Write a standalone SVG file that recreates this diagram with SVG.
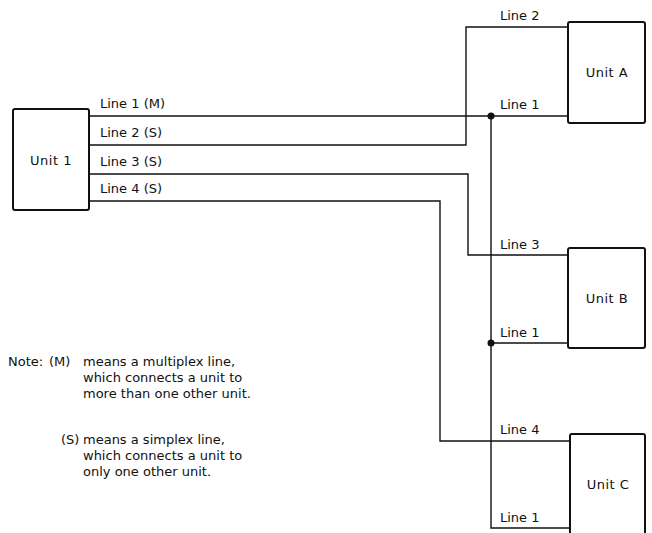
<svg xmlns="http://www.w3.org/2000/svg" width="652" height="533" viewBox="0 0 652 533">
<style>
.box{fill:#fff;stroke:#111;stroke-width:2}
.ln{fill:none;stroke:#111;stroke-width:1.4}
text{font-family:"DejaVu Sans","Liberation Sans",sans-serif;font-size:13px;fill:#111}
.c{text-anchor:middle;letter-spacing:0.5px}
</style>
<rect width="652" height="533" fill="#fff"/>
<g id="connectors">
<path class="ln" d="M89,116 H568"/>
<path class="ln" d="M89,145 H466 V27 H568"/>
<path class="ln" d="M89,174 H468 V255 H568"/>
<path class="ln" d="M89,201 H440 V441 H570"/>
<path class="ln" d="M491,116 V528 H570"/>
<path class="ln" d="M491,343 H568"/>
<circle cx="491" cy="116" r="3.5" fill="#111"/>
<circle cx="491" cy="343" r="3.5" fill="#111"/>
<text x="100" y="108">Line 1 (M)</text>
<text x="100" y="137">Line 2 (S)</text>
<text x="100" y="166">Line 3 (S)</text>
<text x="100" y="193">Line 4 (S)</text>
<text x="500" y="20">Line 2</text>
<text x="500" y="109">Line 1</text>
<text x="500" y="249">Line 3</text>
<text x="500" y="337">Line 1</text>
<text x="500" y="434">Line 4</text>
<text x="500" y="522">Line 1</text>
</g>
<g id="unit1"><rect class="box" x="13" y="109" width="76" height="101" rx="2"/><text class="c" x="51" y="165">Unit 1</text></g>
<g id="unitA"><rect class="box" x="568" y="22" width="77" height="101" rx="2"/><text class="c" x="607" y="77">Unit A</text></g>
<g id="unitB"><rect class="box" x="568" y="248" width="77" height="100" rx="2"/><text class="c" x="607" y="303">Unit B</text></g>
<g id="unitC"><rect class="box" x="570" y="434" width="75" height="110" rx="2"/><text class="c" x="608" y="489">Unit C</text></g>
<g id="note">
<text x="8" y="366">Note:</text>
<text x="49" y="366">(M)</text>
<text x="83" y="366">means a multiplex line,</text>
<text x="83" y="382">which connects a unit to</text>
<text x="83" y="398">more than one other unit.</text>
<text x="61" y="444">(S)</text>
<text x="83" y="444">means a simplex line,</text>
<text x="83" y="460">which connects a unit to</text>
<text x="83" y="476">only one other unit.</text>
</g>
</svg>
